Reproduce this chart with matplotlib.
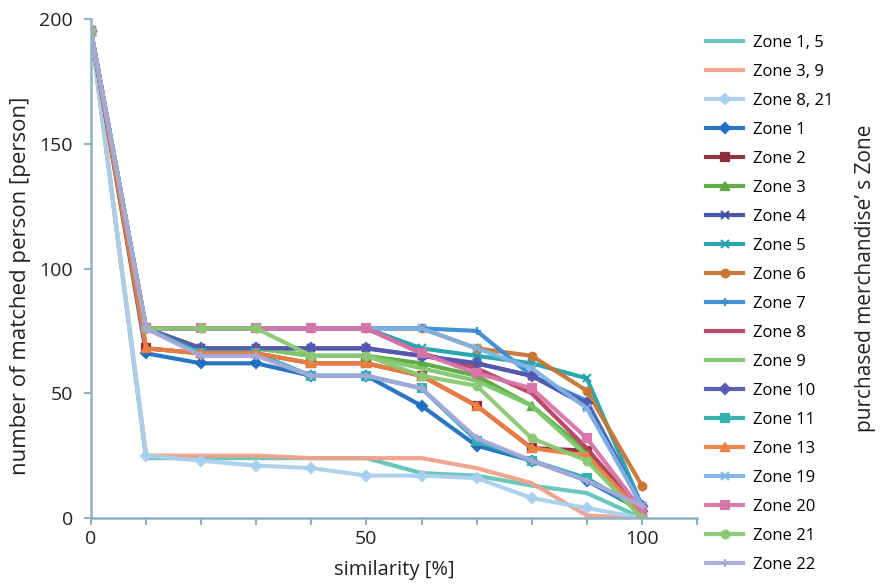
import numpy as np
import matplotlib.pyplot as plt
from matplotlib.ticker import MultipleLocator

similarity = [0, 10, 20, 30, 40, 50, 60, 70, 80, 90, 100]

labels = ["Zone 1, 5", "Zone 3, 9", "Zone 8, 21", "Zone 1", "Zone 2", "Zone 3",
          "Zone 4", "Zone 5", "Zone 6", "Zone 7", "Zone 8", "Zone 9", "Zone 10",
          "Zone 11", "Zone 13", "Zone 19", "Zone 20", "Zone 21", "Zone 22"]

zone_1_5 = [195, 24, 24, 24, 24, 24, 18, 17, 13, 10, 0]
zone_3_9 = [195, 25, 25, 25, 24, 24, 24, 20, 14, 1, 0]
zone_8_21 = [195, 25, 23, 21, 20, 17, 17, 16, 8, 4, 0]
zone_1 = [195, 66, 62, 62, 57, 57, 45, 29, 23, 15, 3]
zone_2 = [195, 68, 66, 66, 62, 62, 57, 45, 28, 27, 3]
zone_3 = [195, 76, 68, 68, 65, 65, 62, 57, 45, 27, 3]
zone_4 = [195, 76, 68, 68, 68, 68, 65, 62, 57, 45, 5]
zone_5 = [195, 76, 76, 76, 76, 76, 68, 65, 62, 56, 5]
zone_6 = [195, 76, 76, 76, 76, 76, 76, 68, 65, 51, 13]
zone_7 = [195, 76, 76, 76, 76, 76, 76, 75, 57, 47, 5]
zone_8 = [195, 76, 76, 76, 76, 76, 66, 60, 50, 28, 2]
zone_9 = [195, 76, 68, 68, 65, 65, 60, 55, 45, 25, 0]
zone_10 = [195, 76, 68, 68, 68, 68, 65, 62, 57, 46, 5]
zone_11 = [195, 76, 66, 66, 57, 57, 52, 31, 23, 16, 3]
zone_13 = [195, 68, 66, 66, 62, 62, 57, 45, 28, 25, 2]
zone_19 = [195, 76, 76, 76, 76, 76, 76, 68, 60, 44, 5]
zone_20 = [195, 76, 76, 76, 76, 76, 66, 58, 52, 32, 3]
zone_21 = [195, 76, 76, 76, 65, 65, 57, 53, 32, 23, 0]
zone_22 = [195, 76, 65, 65, 57, 57, 52, 32, 23, 15, 5]

series = [zone_1_5, zone_3_9, zone_8_21, zone_1, zone_2, zone_3, zone_4, zone_5,
          zone_6, zone_7, zone_8, zone_9, zone_10, zone_11, zone_13, zone_19,
          zone_20, zone_21, zone_22]

colors = ["#63c3b8", "#f2a08a", "#a9d0ee", "#1f6fbf", "#8b2a3a", "#5aa83f",
          "#3f4fa8", "#1fa3a8", "#c87534", "#3a8bd6", "#b84060", "#7cc86a",
          "#5559b0", "#2fb0ac", "#ee8040", "#7fb3e5", "#d774a8", "#8bc873",
          "#a8a8dc"]
markers = [None, None, "D", "D", "s", "^", "x", "x", "o", "+", None, None, "D",
           "s", "^", "x", "s", "o", "+"]

plt.rcParams['font.family'] = ['Open Sans', 'DejaVu Sans']

fig = plt.figure(figsize=(8.8, 5.86), dpi=100)
ax = fig.add_axes([0.1034, 0.116, 0.6886, 0.8516])

for vals, lab, c, m in zip(series, labels, colors, markers):
    ax.plot(similarity, vals, color=c, lw=3.0, marker=m, markersize=5.5,
            markeredgewidth=1.6, label=lab, alpha=0.95)

axis_col = "#8fb2c2"
for s in ["top", "right"]:
    ax.spines[s].set_visible(False)
for s in ["left", "bottom"]:
    ax.spines[s].set_color(axis_col)
    ax.spines[s].set_linewidth(1.8)

ax.set_xlim(0, 110)
ax.set_ylim(0, 200)
ax.xaxis.set_minor_locator(MultipleLocator(10))
ax.yaxis.set_major_locator(MultipleLocator(50))
ax.set_xticks([0, 50, 100])
ax.tick_params(axis="both", which="both", color=axis_col, length=5, width=1.5,
               labelsize=14, labelcolor="#222222")
ax.tick_params(axis="y", pad=8)

ax.set_xlabel("similarity [%]", fontsize=14.5, color="#222222", labelpad=9)
ax.set_ylabel("number of matched person [person]", fontsize=16, color="#222222")
ax.yaxis.set_label_coords(-0.099, 0.465)

ax.legend(loc="upper left", bbox_to_anchor=(0.795, 0.952),
          bbox_transform=fig.transFigure, frameon=False, fontsize=12,
          labelspacing=0.78, handlelength=2.2, handletextpad=0.6,
          borderaxespad=0)

fig.text(0.984, 0.525, "purchased merchandise’ s Zone", rotation=90, fontsize=15,
         color="#222222", ha="center", va="center")

fig.savefig("out.png", dpi=100)
